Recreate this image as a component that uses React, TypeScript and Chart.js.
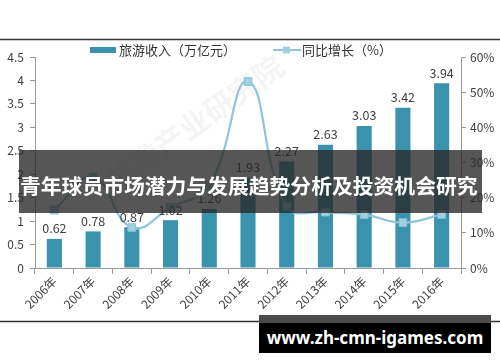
import React, { useEffect, useRef } from 'react';
import { Chart, registerables } from 'chart.js';

Chart.register(...registerables);

const years = ['2006年', '2007年', '2008年', '2009年', '2010年', '2011年', '2012年', '2013年', '2014年', '2015年', '2016年'];
const revenue = [0.62, 0.78, 0.87, 1.02, 1.26, 1.93, 2.27, 2.63, 3.03, 3.42, 3.94];
const growth = [16.5, 25.8, 11.5, 17.2, 23.5, 53.0, 17.6, 15.9, 15.2, 12.9, 15.2];

const barLabel = '旅游收入（万亿元）';
const lineLabel = '同比增长（%）';
const bannerTitle = '青年球员市场潜力与发展趋势分析及投资机会研究';
const siteText = 'www.zh-cmn-igames.com';
const watermark = '前瞻产业研究院';

const BAR = '#3a92ad';
const LINE = '#8fc5d8';
const POINT = '#a3d0e0';
const AXIS = '#9a9a9a';
const TEXT = '#404040';
const FONT = "'Noto Sans CJK SC', 'Noto Sans', sans-serif";

export default function App() {
  const ref = useRef<HTMLCanvasElement>(null);

  useEffect(() => {
    document.body.style.margin = '0';
    const canvas = ref.current;
    if (!canvas) return;

    const decor = {
      id: 'decor',
      beforeDraw(chart: any) {
        const c = chart.ctx;
        c.save();
        c.fillStyle = '#ffffff';
        c.fillRect(0, 0, chart.width, chart.height);
        c.fillStyle = 'rgba(0,0,0,0.045)';
        c.font = `bold 30px ${FONT}`;
        c.translate(205, 130);
        c.rotate(-0.62);
        c.fillText(watermark, -110, 0);
        c.restore();
        c.save();
        c.strokeStyle = '#333';
        c.lineWidth = 1.5;
        c.beginPath();
        c.moveTo(0, 39.5);
        c.lineTo(500, 39.5);
        c.moveTo(0, 321.5);
        c.lineTo(500, 321.5);
        c.stroke();
        c.restore();
      },
      afterDatasetsDraw(chart: any) {
        const c = chart.ctx;
        const meta = chart.getDatasetMeta(1);
        c.save();
        c.fillStyle = TEXT;
        c.font = `12.5px ${FONT}`;
        c.textAlign = 'center';
        c.textBaseline = 'bottom';
        meta.data.forEach((bar: any, i: number) => {
          c.fillText(revenue[i].toFixed(2), bar.x, bar.y - 4);
        });
        c.restore();
      },
      afterDraw(chart: any) {
        const c = chart.ctx;
        c.save();
        const y = 50;
        c.fillStyle = BAR;
        c.fillRect(90, y - 3, 26, 6);
        c.fillStyle = '#333';
        c.font = `13px ${FONT}`;
        c.textBaseline = 'middle';
        c.fillText(barLabel, 119, y);
        c.strokeStyle = LINE;
        c.lineWidth = 2;
        c.beginPath();
        c.moveTo(273, y);
        c.lineTo(301, y);
        c.stroke();
        c.fillStyle = POINT;
        c.fillRect(283, y - 3.5, 7, 7);
        c.fillStyle = '#333';
        c.fillText(lineLabel, 302, y);
        c.restore();
      },
    };

    const chart = new Chart(canvas, {
      type: 'bar',
      data: {
        labels: years,
        datasets: [
          {
            type: 'line',
            label: lineLabel,
            data: growth,
            yAxisID: 'y1',
            borderColor: LINE,
            borderWidth: 2.2,
            tension: 0.45,
            pointStyle: 'rect',
            pointRadius: 5.5,
            pointBackgroundColor: POINT,
            pointBorderColor: '#86bfd3',
            pointBorderWidth: 1,
            order: 0,
          } as any,
          {
            type: 'bar',
            label: barLabel,
            data: revenue,
            yAxisID: 'y',
            backgroundColor: BAR,
            barPercentage: 0.39,
            categoryPercentage: 1,
            order: 1,
          },
        ],
      },
      plugins: [decor],
      options: {
        responsive: false,
        animation: false,
        devicePixelRatio: 1,
        layout: { padding: { top: 57, left: 0, right: 0, bottom: 0 } },
        plugins: {
          legend: { display: false },
          tooltip: { enabled: false },
        },
        scales: {
          x: {
            offset: true,
            grid: { offset: true, drawOnChartArea: false, drawTicks: true, tickLength: 6, color: AXIS },
            border: { display: true, color: AXIS },
            ticks: { minRotation: 45, maxRotation: 45, color: TEXT, font: { size: 12, family: FONT }, padding: 0 },
            afterFit: (s: any) => { s.height = 94; },
          },
          y: {
            position: 'left',
            min: 0,
            max: 4.5,
            ticks: { stepSize: 0.5, color: TEXT, font: { size: 12, family: FONT }, padding: 6, callback: (v: any) => String(v) },
            grid: { drawOnChartArea: false, drawTicks: true, tickLength: 5, color: AXIS },
            border: { display: true, color: AXIS },
            afterFit: (s: any) => { s.width = 35; },
          },
          y1: {
            position: 'right',
            min: 0,
            max: 60,
            ticks: { stepSize: 10, color: TEXT, font: { size: 12, family: FONT }, padding: 4, callback: (v: any) => v + '%' },
            grid: { drawOnChartArea: false, drawTicks: true, tickLength: 5, color: AXIS },
            border: { display: true, color: AXIS },
            afterFit: (s: any) => { s.width = 39; },
          },
        },
      },
    });

    return () => chart.destroy();
  }, []);

  return (
    <div style={{ position: 'relative', width: 500, height: 362, overflow: 'hidden', background: '#fff' }}>
      <canvas ref={ref} width={500} height={362} style={{ display: 'block', width: 500, height: 362 }} />
      <div
        style={{
          position: 'absolute', left: 19, top: 150, width: 463, height: 63,
          background: 'rgba(38,38,38,0.78)', color: '#fff', fontFamily: FONT, fontWeight: 700,
          fontSize: 20.8, lineHeight: '63px', paddingTop: 4, paddingLeft: 1, boxSizing: 'border-box', whiteSpace: 'nowrap',
          letterSpacing: 0, overflow: 'hidden',
        }}
      >
        {bannerTitle}
      </div>
      <div style={{ position: 'absolute', left: 259, top: 315, width: 232, height: 38, background: '#000' }}>
        <div style={{ position: 'absolute', left: 0, top: 0, width: 232, height: 8, background: '#4a4a4a' }} />
        <div
          style={{
            position: 'absolute', left: 0, top: 8, width: 232, height: 30, color: '#fff',
            fontFamily: "'Noto Sans', sans-serif", fontWeight: 700, fontSize: 17, lineHeight: '30px',
            textAlign: 'center', whiteSpace: 'nowrap',
          }}
        >
          {siteText}
        </div>
      </div>
    </div>
  );
}
